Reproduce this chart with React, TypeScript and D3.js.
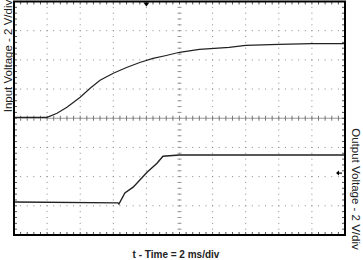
import React from "react";
import * as d3 from "d3";

// Time axis: 2 ms/div, 10 divisions; Voltage: 2 V/div, 8 divisions (center = 0)
const timeDomain = [0, 20];
const voltDomain = [-8, 8];

const inputTime = [0, 2, 2.6, 3.2, 4, 4.6, 5.2, 6, 6.8, 7.6, 8.4, 9.2, 10, 11.2, 13, 14, 16, 18, 20];
const inputVolt = [0.06, 0.06, 0.34, 0.76, 1.44, 2.06, 2.6, 3.08, 3.48, 3.82, 4.1, 4.3, 4.52, 4.72, 4.86, 5.0, 5.06, 5.12, 5.12];

const outputTime = [0, 6.28, 6.34, 6.7, 7.2, 8.04, 8.64, 9.0, 10, 20];
const outputVolt = [-5.74, -5.8, -5.88, -5.12, -4.72, -3.7, -3.08, -2.6, -2.52, -2.52];

const xLabel = "t - Time = 2 ms/div";
const yLeftLabel = "Input Voltage - 2 V/div";
const yRightLabel = "Output Voltage - 2 V/div";

const triggerTime = 8;
const ch2Marker = -3.76;

export default function App() {
  const W = 363, H = 260;
  const x0 = 14, x1 = 345, y0 = 1.5, y1 = 235;
  const x = d3.scaleLinear().domain(timeDomain).range([x0, x1]);
  const y = d3.scaleLinear().domain(voltDomain).range([y1, y0]);

  const xDivs = d3.range(0, 21, 2);
  const yDivs = d3.range(-8, 9, 2);
  const xMinor = d3.range(0, 20.001, 0.4);
  const yMinor = d3.range(-8, 8.001, 0.4);

  const line = d3.line<[number, number]>().x(d => x(d[0])).y(d => y(d[1]));
  const inPts = inputTime.map((t, i) => [t, inputVolt[i]] as [number, number]);
  const outPts = outputTime.map((t, i) => [t, outputVolt[i]] as [number, number]);

  const dots: JSX.Element[] = [];
  xDivs.slice(1, -1).forEach((t, i) => {
    yMinor.forEach((v, j) => {
      dots.push(<rect key={`vx${i}-${j}`} x={x(t) - 0.5} y={y(v) - 0.5} width={1} height={1} fill="#888" />);
    });
  });
  yDivs.slice(1, -1).forEach((v, i) => {
    xMinor.forEach((t, j) => {
      dots.push(<rect key={`hy${i}-${j}`} x={x(t) - 0.5} y={y(v) - 0.5} width={1} height={1} fill="#888" />);
    });
  });

  const ticks: JSX.Element[] = [];
  xMinor.forEach((t, j) => {
    ticks.push(<line key={`tt${j}`} x1={x(t)} x2={x(t)} y1={y0} y2={y0 + 3} stroke="#555" strokeWidth={1} />);
    ticks.push(<line key={`tb${j}`} x1={x(t)} x2={x(t)} y1={y1} y2={y1 - 3} stroke="#555" strokeWidth={1} />);
    ticks.push(<line key={`tc${j}`} x1={x(t)} x2={x(t)} y1={y(0) - 2.5} y2={y(0) + 2.5} stroke="#777" strokeWidth={1} />);
  });
  yMinor.forEach((v, j) => {
    ticks.push(<line key={`tl${j}`} x1={x0} x2={x0 + 3} y1={y(v)} y2={y(v)} stroke="#555" strokeWidth={1} />);
    ticks.push(<line key={`tr${j}`} x1={x1} x2={x1 - 3} y1={y(v)} y2={y(v)} stroke="#555" strokeWidth={1} />);
    ticks.push(<line key={`tv${j}`} x1={x(10) - 2} x2={x(10) + 2} y1={y(v)} y2={y(v)} stroke="#999" strokeWidth={1} />);
  });

  const tx = x(triggerTime);
  const my = y(ch2Marker);

  return (
    <svg width={W} height={H} style={{ position: "absolute", left: 0, top: 0, background: "#fff" }}
      fontFamily="'Liberation Sans', Arial, sans-serif">
      <rect x={0} y={0} width={W} height={H} fill="#fff" />
      {dots}
      <line x1={x0} x2={x1} y1={y(0)} y2={y(0)} stroke="#999" strokeWidth={1} />
      {ticks}
      <path d={line(inPts) || ""} fill="none" stroke="#222" strokeWidth={1.2} />
      <path d={line(outPts) || ""} fill="none" stroke="#222" strokeWidth={1.4} />
      <rect x={x0} y={y0} width={x1 - x0} height={y1 - y0} fill="none" stroke="#000" strokeWidth={2} />
      <path d={`M${tx - 3},${y0 + 1} L${tx + 3},${y0 + 1} L${tx},${y0 + 5} Z`} fill="#000" />
      <line x1={x1 - 8} x2={x1 - 3} y1={my} y2={my} stroke="#000" strokeWidth={1.2} />
      <path d={`M${x1 - 9},${my} L${x1 - 6},${my - 2.5} L${x1 - 6},${my + 2.5} Z`} fill="#000" />
      <text x={176} y={258} textAnchor="middle" fontSize={10} fontWeight="bold" fill="#222">{xLabel}</text>
      <text transform={`translate(11.5, ${56}) rotate(-90)`} textAnchor="middle" fontSize={11.5} fill="#222">{yLeftLabel}</text>
      <text transform={`translate(351.5, ${189}) rotate(90)`} textAnchor="middle" fontSize={11.5} fill="#222">{yRightLabel}</text>
    </svg>
  );
}
